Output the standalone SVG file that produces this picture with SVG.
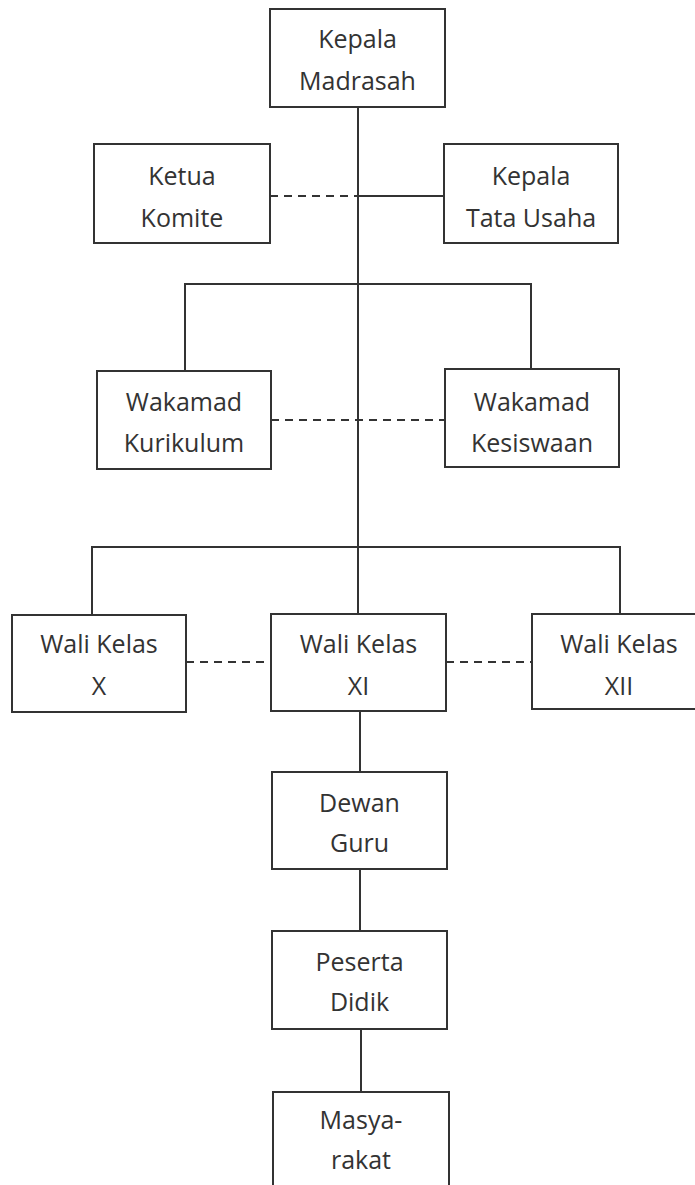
<svg xmlns="http://www.w3.org/2000/svg" width="695" height="1185" viewBox="0 0 695 1185">
  <style>
    .box { fill: #ffffff; stroke: #333333; stroke-width: 2; }
    .lbl { font-family: "Open Sans", "Liberation Sans", sans-serif; font-size: 25px; fill: #333333; text-anchor: middle; }
    .solid { fill: none; stroke: #333333; stroke-width: 2; }
    .dash { fill: none; stroke: #333333; stroke-width: 2; stroke-dasharray: 8 6; }
  </style>
  <rect width="695" height="1185" fill="#ffffff"/>

  <!-- connectors -->
  <g id="connectors">
    <!-- main spine -->
    <line class="solid" x1="358" y1="107" x2="358" y2="614"/>
    <line class="solid" x1="360" y1="711" x2="360" y2="772"/>
    <line class="solid" x1="360" y1="869" x2="360" y2="931"/>
    <line class="solid" x1="361" y1="1029" x2="361" y2="1092"/>
    <!-- committee / administration -->
    <line class="dash" x1="270" y1="196" x2="358" y2="196"/>
    <line class="solid" x1="358" y1="196" x2="444" y2="196"/>
    <!-- vice principals -->
    <polyline class="solid" points="185,371 185,284 531,284 531,369"/>
    <line class="dash" x1="271" y1="420" x2="445" y2="420"/>
    <!-- homeroom teachers -->
    <polyline class="solid" points="92,615 92,547 620,547 620,614"/>
    <line class="dash" x1="186" y1="662" x2="271" y2="662"/>
    <line class="dash" x1="446" y1="662" x2="532" y2="662"/>
  </g>

  <g id="kepala-madrasah">
    <rect class="box" x="270" y="9" width="175" height="98"/>
    <text class="lbl" x="357.5" y="48">Kepala</text>
    <text class="lbl" x="357.5" y="90">Madrasah</text>
  </g>

  <g id="ketua-komite">
    <rect class="box" x="94" y="144" width="176" height="99"/>
    <text class="lbl" x="182" y="185">Ketua</text>
    <text class="lbl" x="182" y="227">Komite</text>
  </g>

  <g id="kepala-tata-usaha">
    <rect class="box" x="444" y="144" width="174" height="99"/>
    <text class="lbl" x="531" y="185">Kepala</text>
    <text class="lbl" x="531" y="227">Tata Usaha</text>
  </g>

  <g id="wakamad-kurikulum">
    <rect class="box" x="97" y="371" width="174" height="98"/>
    <text class="lbl" x="184" y="411">Wakamad</text>
    <text class="lbl" x="184" y="452">Kurikulum</text>
  </g>

  <g id="wakamad-kesiswaan">
    <rect class="box" x="445" y="369" width="174" height="98"/>
    <text class="lbl" x="532" y="411">Wakamad</text>
    <text class="lbl" x="532" y="452">Kesiswaan</text>
  </g>

  <g id="wali-kelas-x">
    <rect class="box" x="12" y="615" width="174" height="97"/>
    <text class="lbl" x="99" y="653">Wali Kelas</text>
    <text class="lbl" x="99" y="695">X</text>
  </g>

  <g id="wali-kelas-xi">
    <rect class="box" x="271" y="614" width="175" height="97"/>
    <text class="lbl" x="358.5" y="653">Wali Kelas</text>
    <text class="lbl" x="358.5" y="695">XI</text>
  </g>

  <g id="wali-kelas-xii">
    <rect class="box" x="532" y="614" width="174" height="95"/>
    <text class="lbl" x="619" y="653">Wali Kelas</text>
    <text class="lbl" x="619" y="695">XII</text>
  </g>

  <g id="dewan-guru">
    <rect class="box" x="272" y="772" width="175" height="97"/>
    <text class="lbl" x="359.5" y="812">Dewan</text>
    <text class="lbl" x="359.5" y="852">Guru</text>
  </g>

  <g id="peserta-didik">
    <rect class="box" x="272" y="931" width="175" height="98"/>
    <text class="lbl" x="359.5" y="971">Peserta</text>
    <text class="lbl" x="359.5" y="1011">Didik</text>
  </g>

  <g id="masyarakat">
    <rect class="box" x="273" y="1092" width="176" height="110"/>
    <text class="lbl" x="361" y="1129">Masya-</text>
    <text class="lbl" x="361" y="1169">rakat</text>
  </g>
</svg>
